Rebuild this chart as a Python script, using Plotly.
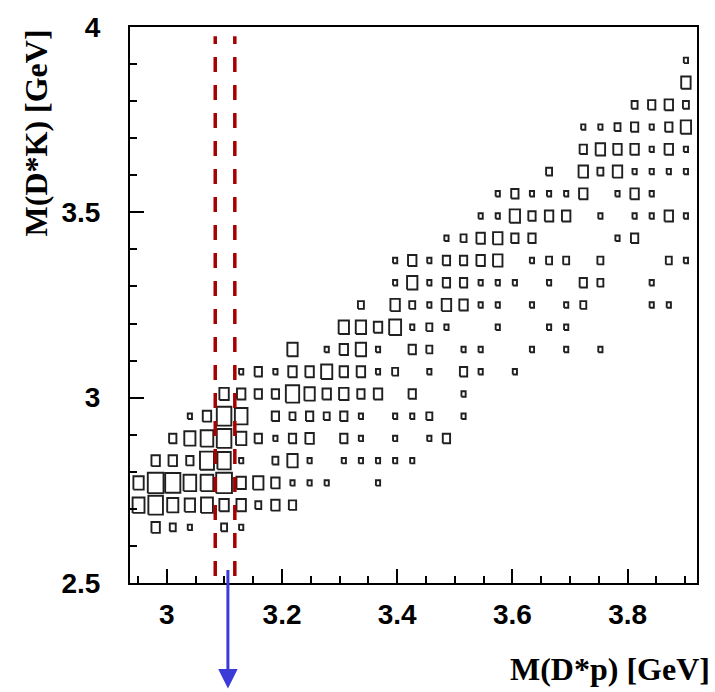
import math
import plotly.graph_objects as go

# ---- histogram binning (M(D*p) on x, M(D*K) on y) ----
X_MIN_EDGE = 2.936
X_BIN = 0.0297
Y_MIN_EDGE = 2.5
Y_BIN = 0.06

# bin contents, one dict per y-row (column index -> entries), rows from y=2.53 upward
row_counts = [
    {},                                                                      # 2.53
    {},                                                                      # 2.59
    {1: 4, 2: 2, 3: 1, 5: 2, 6: 1},                                          # 2.65
    {0: 8, 1: 12, 2: 7, 3: 6, 4: 8, 5: 5, 6: 5, 7: 2, 8: 4, 9: 3},           # 2.71
    {0: 6, 1: 14, 2: 13, 3: 9, 4: 9, 5: 14, 6: 5, 7: 6, 8: 4, 9: 1, 10: 1, 11: 1, 14: 1},  # 2.77
    {1: 4, 2: 4, 3: 3, 4: 11, 5: 10, 6: 1, 8: 2, 9: 6, 10: 1, 12: 1, 13: 1, 14: 1, 15: 1, 16: 1},  # 2.83
    {2: 3, 3: 7, 4: 9, 5: 12, 6: 6, 7: 3, 8: 1, 9: 3, 10: 4, 12: 3, 13: 1, 15: 1, 17: 1, 18: 3},  # 2.89
    {3: 1, 4: 4, 5: 12, 6: 9, 8: 3, 9: 2, 10: 3, 11: 2, 12: 3, 13: 1, 15: 1, 16: 1, 17: 2, 19: 1},  # 2.95
    {5: 5, 6: 4, 7: 3, 8: 3, 9: 10, 10: 6, 11: 4, 12: 5, 13: 3, 14: 4, 16: 3, 19: 1},  # 3.01
    {6: 1, 7: 3, 8: 1, 9: 4, 10: 4, 11: 7, 12: 4, 13: 4, 14: 1, 15: 2, 17: 1, 19: 3, 20: 1, 22: 1},  # 3.07
    {9: 6, 11: 1, 12: 4, 13: 6, 14: 1, 16: 3, 17: 2, 19: 1, 20: 1, 23: 1, 25: 1, 27: 1},  # 3.13
    {12: 6, 13: 6, 14: 4, 15: 8, 16: 1, 17: 2, 18: 1, 21: 1, 24: 1, 25: 1},  # 3.19
    {13: 2, 15: 5, 16: 2, 17: 1, 18: 5, 19: 4, 20: 1, 21: 1, 23: 1, 25: 1, 26: 2, 30: 1, 31: 1},  # 3.25
    {15: 1, 16: 6, 17: 1, 18: 3, 19: 3, 20: 1, 21: 1, 22: 1, 24: 1, 26: 3, 27: 2, 30: 1},  # 3.31
    {15: 1, 16: 4, 17: 1, 18: 3, 19: 3, 20: 4, 21: 5, 23: 1, 24: 2, 25: 2, 27: 2, 31: 2, 32: 1},  # 3.37
    {18: 1, 19: 2, 20: 4, 21: 5, 22: 3, 23: 3, 28: 1, 29: 3},                # 3.43
    {20: 1, 21: 1, 22: 6, 23: 3, 24: 4, 25: 4, 27: 1, 29: 1, 30: 1, 31: 4, 32: 1},  # 3.49
    {21: 1, 22: 3, 23: 1, 24: 1, 25: 1, 26: 4, 28: 1, 29: 4, 30: 1},         # 3.55
    {24: 2, 26: 5, 27: 2, 28: 5, 29: 1, 30: 1, 31: 1, 32: 1},                # 3.61
    {26: 3, 27: 5, 28: 4, 29: 4, 30: 1, 31: 4, 32: 1},                       # 3.67
    {26: 1, 27: 1, 28: 2, 29: 3, 30: 1, 31: 3, 32: 6},                       # 3.73
    {29: 2, 30: 3, 31: 4, 32: 2},                                            # 3.79
    {32: 5},                                                                 # 3.85
    {32: 1},                                                                 # 3.91
]

C_MAX = 14
BOX_SCALE = 0.92

# tick labels
x_tick_vals = [3.0, 3.2, 3.4, 3.6, 3.8]
x_tick_text = ["3", "3.2", "3.4", "3.6", "3.8"]
y_tick_vals = [2.5, 3.0, 3.5, 4.0]
y_tick_text = ["2.5", "3", "3.5", "4"]

# marker lines (dashed band) and arrow
band_x = [3.084, 3.118]
band_y = [2.519, 3.975]
arrow_x = 3.106

x_title = "M(D*p) [GeV]"
y_title = "M(D*K) [GeV]"

fig = go.Figure()

xs, ys = [], []
for j, row in enumerate(row_counts):
    yc = Y_MIN_EDGE + (j + 0.5) * Y_BIN
    for i, c in row.items():
        xc = X_MIN_EDGE + (i + 0.5) * X_BIN
        f = BOX_SCALE * math.sqrt(c / C_MAX)
        hw = 0.5 * f * X_BIN
        hh = 0.5 * f * Y_BIN
        xs += [xc - hw, xc + hw, xc + hw, xc - hw, xc - hw, None]
        ys += [yc - hh, yc - hh, yc + hh, yc + hh, yc - hh, None]

fig.add_trace(go.Scatter(x=xs, y=ys, mode="lines",
                         line=dict(color="#202020", width=1.9),
                         hoverinfo="skip", showlegend=False))

for bx in band_x:
    fig.add_trace(go.Scatter(x=[bx, bx], y=band_y, mode="lines",
                             line=dict(color="#a80000", width=3.5, dash="15px,13px"),
                             hoverinfo="skip", showlegend=False))

tick_font = dict(family="Liberation Sans", size=28, color="black", weight="bold")
title_font = dict(family="Liberation Serif", size=32, color="black", weight="bold")

fig.update_xaxes(range=[2.936, 3.9205], tickvals=x_tick_vals, ticktext=x_tick_text,
                 ticks="inside", ticklen=14, tickwidth=1.5, tickcolor="black",
                 minor=dict(ticks="inside", ticklen=7, tickwidth=1.5, dtick=0.05,
                            tick0=2.95, tickcolor="black", showgrid=False),
                 showline=True, linewidth=2, linecolor="black", mirror=True,
                 showgrid=False, zeroline=False, tickfont=tick_font,
                 ticklabelstandoff=5)
fig.update_yaxes(range=[2.5, 4.0], tickvals=y_tick_vals, ticktext=y_tick_text,
                 ticks="inside", ticklen=14, tickwidth=1.5, tickcolor="black",
                 minor=dict(ticks="inside", ticklen=7, tickwidth=1.5, dtick=0.1,
                            tick0=2.5, tickcolor="black", showgrid=False),
                 showline=True, linewidth=2, linecolor="black", mirror=True,
                 showgrid=False, zeroline=False, tickfont=tick_font,
                 ticklabelstandoff=22)

PLOT_L, PLOT_R, PLOT_T, PLOT_B = 130, 697, 19, 583
PW, PH = PLOT_R - PLOT_L, PLOT_B - PLOT_T

def px_to_paper_x(px):
    return (px - PLOT_L) / PW

def px_to_paper_y(py):
    return (PLOT_B - py) / PH

annotations = [
    dict(text=x_title, xref="paper", yref="paper",
         x=px_to_paper_x(712), y=px_to_paper_y(670),
         xanchor="right", yanchor="middle", showarrow=False, font=title_font),
    dict(text=y_title, xref="paper", yref="paper",
         x=px_to_paper_x(36), y=px_to_paper_y(127),
         xanchor="center", yanchor="middle", textangle=-90,
         showarrow=False, font=title_font),
    dict(text="", xref="x", yref="paper", x=arrow_x, y=px_to_paper_y(690),
         ax=0, ay=-120, showarrow=True, arrowhead=2, arrowsize=1.3,
         arrowwidth=3, arrowcolor="#3b3bd6", standoff=0),
]

fig.update_layout(width=715, height=692,
                  margin=dict(l=PLOT_L, r=715 - PLOT_R, t=PLOT_T, b=692 - PLOT_B),
                  paper_bgcolor="white", plot_bgcolor="white",
                  annotations=annotations, showlegend=False)

fig.write_html("out.html")
